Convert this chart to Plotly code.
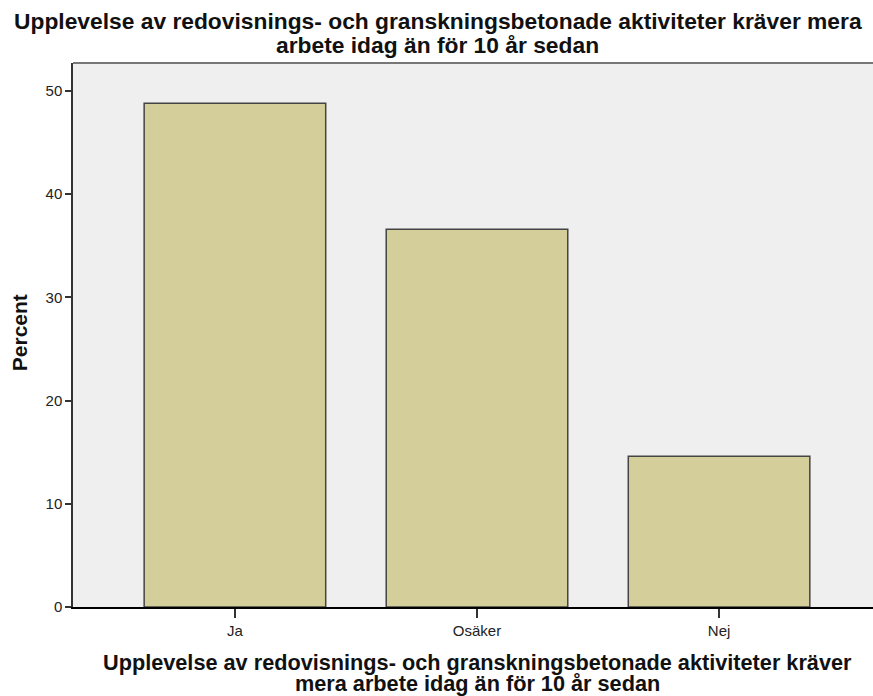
import plotly.graph_objects as go

categories = ["Ja", "Osäker", "Nej"]
percent = [48.8, 36.6, 14.6]
y_ticks = [0, 10, 20, 30, 40, 50]

title_lines = ["Upplevelse av redovisnings- och granskningsbetonade aktiviteter kräver mera",
               "arbete idag än för 10 år sedan"]
xtitle_lines = ["Upplevelse av redovisnings- och granskningsbetonade aktiviteter kräver",
                "mera arbete idag än för 10 år sedan"]
ytitle = "Percent"

FONT = "Liberation Sans, Arial, Helvetica, sans-serif"

fig = go.Figure()
fig.add_trace(go.Bar(
    x=categories, y=percent, width=0.75,
    marker=dict(color="#d3ce9a", line=dict(color="#444444", width=1.5)),
    hoverinfo="x+y",
))

ann = []
for txt, y in zip(title_lines, [1.0763, 1.034]):
    ann.append(dict(text="<b>" + txt + "</b>", xref="paper", yref="paper", x=0.456, y=y,
                    xanchor="center", yanchor="middle", showarrow=False,
                    font=dict(size=22.8, color="#111111", family=FONT)))
for txt, y in zip(xtitle_lines, [-0.1029, -0.1415]):
    ann.append(dict(text="<b>" + txt + "</b>", xref="paper", yref="paper", x=0.505, y=y,
                    xanchor="center", yanchor="middle", showarrow=False,
                    font=dict(size=21.7, color="#111111", family=FONT)))
ann.append(dict(text="<b>" + ytitle + "</b>", xref="paper", yref="paper", x=-0.066, y=0.5037,
                xanchor="center", yanchor="middle", showarrow=False, textangle=-90,
                font=dict(size=21, color="#111111", family=FONT)))

fig.update_layout(
    width=873, height=696,
    margin=dict(l=73, r=0, t=63, b=89),
    paper_bgcolor="white", plot_bgcolor="#efefef",
    showlegend=False,
    font=dict(family=FONT, color="#222222"),
    xaxis=dict(range=[-0.669, 2.636], showgrid=False, zeroline=False,
               showline=True, linecolor="black", linewidth=1.5,
               ticks="outside", ticklen=9, tickwidth=1.5, tickcolor="#333333",
               tickfont=dict(size=15, color="#222222")),
    yaxis=dict(range=[0, 52.7], tickvals=y_ticks, showgrid=False, zeroline=False,
               showline=True, linecolor="#333333", linewidth=1.5,
               ticks="outside", ticklen=6, tickwidth=1.5, tickcolor="#333333",
               tickfont=dict(size=15, color="#222222")),
    shapes=[dict(type="line", xref="paper", yref="paper", x0=0, x1=1, y0=1, y1=1,
                 line=dict(color="#777777", width=2))],
    annotations=ann,
)

fig.write_html("out.html", config={"displayModeBar": False},
               post_script="document.body.style.margin='0';document.body.style.overflow='hidden';")
